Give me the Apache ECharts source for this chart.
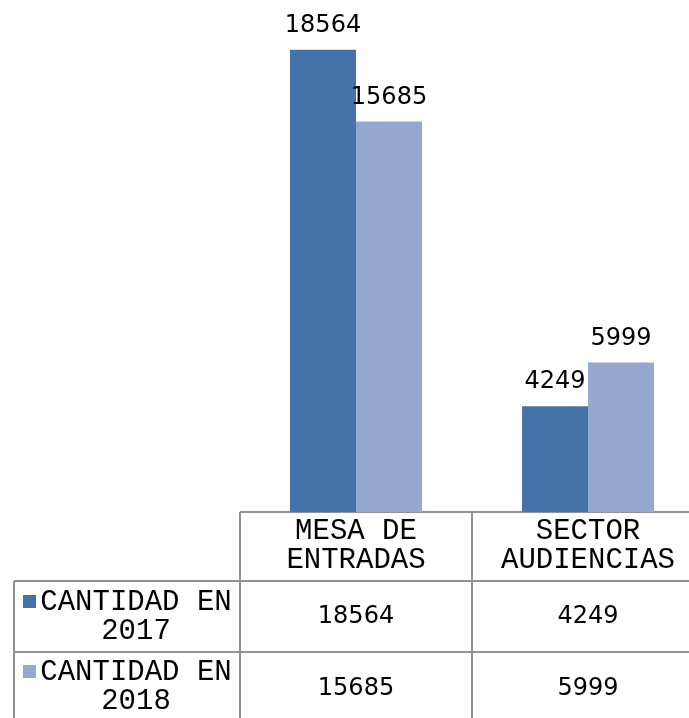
<!DOCTYPE html>
<html>
<head>
<meta charset="utf-8">
<script src="https://cdn.jsdelivr.net/npm/echarts@6/dist/echarts.min.js"></script>
<style>
  html, body { margin: 0; padding: 0; background: #fff; overflow: hidden; }
  /* the original picture is cropped on the right, so the chart is a bit wider than the frame */
  #frame { width: 689px; height: 718px; overflow: hidden; }
  #chart { width: 704px; height: 718px; }
</style>
</head>
<body>
<div id="frame"><div id="chart"></div></div>
<script>
// data
const categories = ['MESA DE\nENTRADAS', 'SECTOR\nAUDIENCIAS']
const seriesNames = ['CANTIDAD EN\n2017', 'CANTIDAD EN\n2018']
const values2017 = [18564, 4249]
const values2018 = [15685, 5999]
const colors = ['#4673A7', '#95A9D0']

const monoFont = '"Liberation Mono", "DejaVu Sans Mono", monospace'
const numFont = '"DejaVu Sans", sans-serif'
const lineColor = '#929292'

let chart = echarts.init(document.getElementById('chart'))

function barLabel() {
    return {
        show: true,
        position: 'top',
        distance: 12,
        color: '#000',
        fontFamily: numFont,
        fontSize: 24,
        lineHeight: 24
    }
}

chart.setOption({
    animation: false,
    grid: {left: 240, right: 0, top: 14, bottom: 206},
    xAxis: {
        type: 'category',
        data: categories,
        axisLine: {show: false},
        axisTick: {show: false},
        axisLabel: {show: false}
    },
    yAxis: {
        type: 'value',
        min: 0,
        max: 20000,
        show: false,
        splitLine: {show: false}
    },
    series: [
        {
            name: seriesNames[0], type: 'bar', data: values2017,
            barWidth: 66, barGap: '0%',
            itemStyle: {color: colors[0]},
            label: barLabel()
        },
        {
            name: seriesNames[1], type: 'bar', data: values2018,
            barWidth: 66, barGap: '0%',
            itemStyle: {color: colors[1]},
            label: barLabel()
        }
    ]
})

// data table under the plot
function buildTable() {
    let g = []
    let c0 = chart.convertToPixel({xAxisIndex: 0}, 0)
    let c1 = chart.convertToPixel({xAxisIndex: 0}, 1)
    let band = c1 - c0
    let top = chart.convertToPixel({yAxisIndex: 0}, 0)
    let rows = [top, top + 69, top + 140]
    let left = 14
    let colLeft = c0 - band / 2
    let colMid = c0 + band / 2
    let W = chart.getWidth()
    let H = chart.getHeight()

    const line = (x1, y1, x2, y2) => ({
        type: 'line',
        shape: {x1, y1, x2, y2},
        style: {stroke: lineColor, lineWidth: 2}
    })
    g.push(line(colLeft, rows[0], W, rows[0]))
    g.push(line(left, rows[1], W, rows[1]))
    g.push(line(left, rows[2], W, rows[2]))
    g.push(line(left, rows[1], left, H))
    g.push(line(colLeft, rows[0], colLeft, H))
    g.push(line(colMid, rows[0], colMid, H))

    const text = (x, y, t, font) => ({
        type: 'text',
        x, y,
        style: {
            text: t, font: font, fill: '#000',
            align: 'center', verticalAlign: 'middle', lineHeight: 29
        }
    })
    let mono = '29px ' + monoFont
    let num = '24px ' + numFont
    // header
    g.push(text(c0, rows[0] + 34, categories[0], mono))
    g.push(text(c1, rows[0] + 34, categories[1], mono))
    // series rows
    let seriesVals = [values2017, values2018]
    let rowCenters = [rows[1] + 36, rows[2] + 35]
    let numCenters = [rows[1] + 36, rows[2] + 37]
    for (let i = 0; i < 2; i++) {
        g.push({
            type: 'rect',
            shape: {x: 23, y: rowCenters[i] - 22, width: 13, height: 13},
            style: {fill: colors[i]}
        })
        g.push(text(136, rowCenters[i], seriesNames[i], mono))
        g.push(text(c0, numCenters[i], String(seriesVals[i][0]), num))
        g.push(text(c1, numCenters[i], String(seriesVals[i][1]), num))
    }
    return g
}

chart.setOption({graphic: {elements: buildTable()}})
</script>
</body>
</html>
